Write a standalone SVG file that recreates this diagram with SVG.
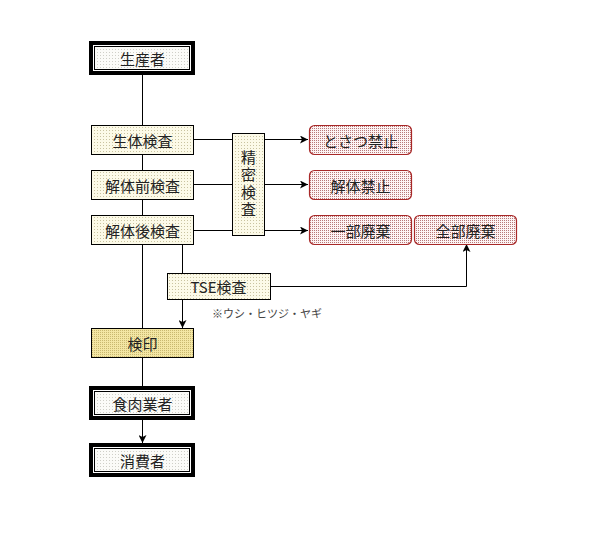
<svg xmlns="http://www.w3.org/2000/svg" width="600" height="551" viewBox="0 0 600 551">
<defs>
<pattern id="pCream" width="3" height="3" patternUnits="userSpaceOnUse">
<rect width="3" height="3" fill="#fcfae8"/><rect x="1" y="1" width="1" height="1" fill="#c9c3a0"/>
</pattern>
<pattern id="pGray" width="3" height="3" patternUnits="userSpaceOnUse">
<rect width="3" height="3" fill="#fbfbf8"/><rect x="1" y="1" width="1" height="1" fill="#cfcfc8"/>
</pattern>
<pattern id="pRed" width="2" height="2" patternUnits="userSpaceOnUse">
<rect width="2" height="2" fill="#fdf4f4"/><rect x="0" y="0" width="1" height="1" fill="#b87878"/>
</pattern>
<pattern id="pYellow" width="2" height="2" patternUnits="userSpaceOnUse">
<rect width="2" height="2" fill="#f3e6a4"/><rect x="0" y="0" width="1" height="1" fill="#c9b870"/>
</pattern>
<marker id="arr" viewBox="0 0 8 8" refX="8" refY="4" markerWidth="8" markerHeight="8" markerUnits="userSpaceOnUse" orient="auto">
<path d="M0,0 L8,4 L0,8 L2,4 Z" fill="#000"/>
</marker>
</defs>
<style>
text{font-family:"Noto Sans CJK JP","Noto Sans",sans-serif;font-size:15px;fill:#222;text-anchor:middle;dominant-baseline:central}
.thick{fill:none;stroke:#000;stroke-width:4}
.thin{stroke:#000;stroke-width:1;fill:url(#pGray)}
.insp{fill:url(#pCream);stroke:#000;stroke-width:1}
.red{fill:url(#pRed);stroke:#a82828;stroke-width:1.2}
.ln{fill:none;stroke:#000;stroke-width:1}
.note{font-size:11px;text-anchor:start;fill:#444}
.vert{writing-mode:vertical-rl;letter-spacing:2.5px}
</style>
<rect width="600" height="551" fill="#fff"/>
<g id="connectors">
<line class="ln" x1="142.5" y1="75" x2="142.5" y2="125"/>
<line class="ln" x1="142.5" y1="154" x2="142.5" y2="170"/>
<line class="ln" x1="142.5" y1="199" x2="142.5" y2="215"/>
<line class="ln" x1="142.5" y1="244" x2="142.5" y2="328"/>
<line class="ln" x1="142.5" y1="357" x2="142.5" y2="386"/>
<line class="ln" x1="142.5" y1="420" x2="142.5" y2="443" marker-end="url(#arr)"/>
<line class="ln" x1="194" y1="139.5" x2="308" y2="139.5" marker-end="url(#arr)"/>
<line class="ln" x1="194" y1="184.5" x2="308" y2="184.5" marker-end="url(#arr)"/>
<line class="ln" x1="194" y1="230.5" x2="308" y2="230.5" marker-end="url(#arr)"/>
<line class="ln" x1="182.5" y1="244" x2="182.5" y2="273"/>
<line class="ln" x1="182.5" y1="299" x2="182.5" y2="328" marker-end="url(#arr)"/>
<polyline class="ln" points="270,286.5 466.5,286.5 466.5,244" marker-end="url(#arr)"/>
</g>
<g id="producer">
<rect class="thick" x="91" y="43" width="102" height="30"/>
<rect class="thin" x="94.5" y="46.5" width="95" height="23"/>
<text x="142.5" y="58">生産者</text>
</g>
<g id="seitai">
<rect class="insp" x="91.5" y="125.5" width="102" height="29"/>
<text x="142.5" y="140">生体検査</text>
</g>
<g id="kaitaimae">
<rect class="insp" x="91.5" y="170.5" width="102" height="29"/>
<text x="142.5" y="185">解体前検査</text>
</g>
<g id="kaitaigo">
<rect class="insp" x="91.5" y="215.5" width="102" height="29"/>
<text x="142.5" y="230">解体後検査</text>
</g>
<g id="seimitsu">
<rect class="insp" x="232.5" y="133.5" width="32" height="102"/>
<text class="vert" x="248.5" y="184.5">精密検査</text>
</g>
<g id="tosatsu">
<rect class="red" x="309.5" y="125.5" width="102" height="29" rx="5"/>
<text x="360.5" y="140">とさつ禁止</text>
</g>
<g id="kaitaikinshi">
<rect class="red" x="309.5" y="170.5" width="102" height="29" rx="5"/>
<text x="360.5" y="185">解体禁止</text>
</g>
<g id="ichibu">
<rect class="red" x="309.5" y="215.5" width="102" height="29" rx="5"/>
<text x="360.5" y="230">一部廃棄</text>
</g>
<g id="zenbu">
<rect class="red" x="414.5" y="215.5" width="102" height="29" rx="5"/>
<text x="465.5" y="230">全部廃棄</text>
</g>
<g id="tse">
<rect class="insp" x="167.5" y="273.5" width="103" height="26"/>
<text x="218.5" y="286.5">TSE検査</text>
</g>
<text class="note" x="212" y="313">※ウシ・ヒツジ・ヤギ</text>
<g id="ken-in">
<rect x="91.5" y="328.5" width="102" height="29" fill="url(#pYellow)" stroke="#000" stroke-width="1"/>
<text x="142.5" y="343">検印</text>
</g>
<g id="shokuniku">
<rect class="thick" x="91" y="388" width="102" height="30"/>
<rect class="thin" x="94.5" y="391.5" width="95" height="23"/>
<text x="142.5" y="403">食肉業者</text>
</g>
<g id="shohisha">
<rect class="thick" x="91" y="445" width="102" height="30"/>
<rect class="thin" x="94.5" y="448.5" width="95" height="23"/>
<text x="142.5" y="460">消費者</text>
</g>
</svg>
